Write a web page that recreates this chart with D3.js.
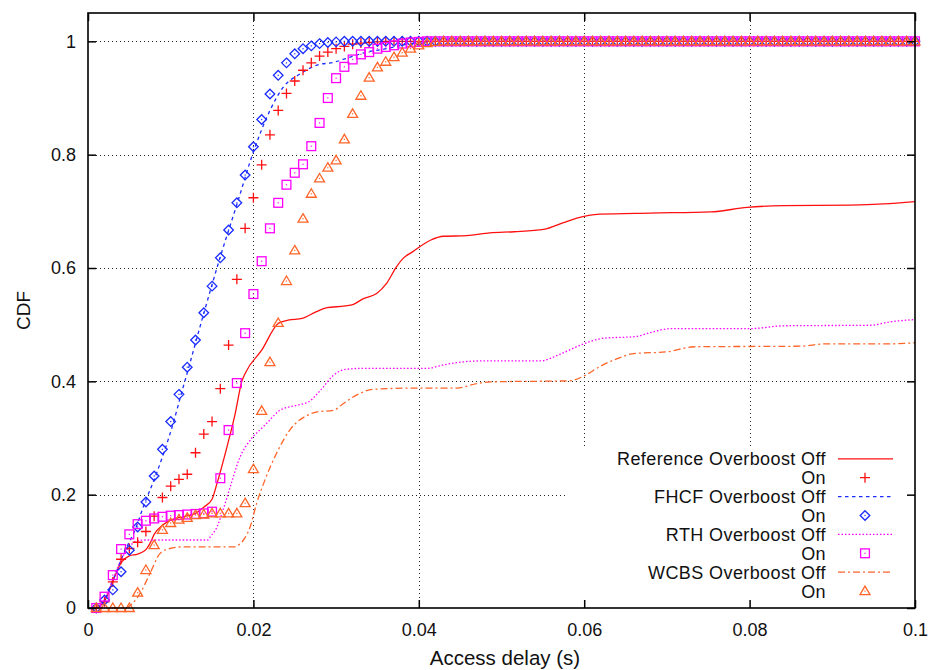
<!DOCTYPE html>
<html>
<head>
<meta charset="utf-8">
<script src="https://cdn.jsdelivr.net/npm/d3@7"></script>
<style>
  html, body { margin: 0; padding: 0; background: #fff; }
  svg { display: block; font-family: "Liberation Sans", Arial, Helvetica, sans-serif; }
</style>
</head>
<body>
<svg id="chart" width="930" height="670"></svg>
<script>
// ---------------- DATA ----------------
const xTickValues = [0, 0.02, 0.04, 0.06, 0.08, 0.1];
const xTickLabels = ["0", "0.02", "0.04", "0.06", "0.08", "0.1"];
const yTickValues = [0, 0.2, 0.4, 0.6, 0.8, 1];
const yTickLabels = ["0", "0.2", "0.4", "0.6", "0.8", "1"];
const xLabel = "Access delay (s)";
const yLabel = "CDF";

// access delays at which the "On" points are plotted (s)
const markerDelays = [
  0.001,0.002,0.003,0.004,0.005,0.006,0.007,0.008,0.009,0.010,
  0.011,0.012,0.013,0.014,0.015,0.016,0.017,0.018,0.019,0.020,
  0.021,0.022,0.023,0.024,0.025,0.026,0.027,0.028,0.029,0.030,
  0.031,0.032,0.033,0.034,0.035,0.036,0.037,0.038,0.039,0.040,
  0.041,0.042,0.043,0.044,0.045,0.046,0.047,0.048,0.049,0.050,
  0.051,0.052,0.053,0.054,0.055,0.056,0.057,0.058,0.059,0.060,
  0.061,0.062,0.063,0.064,0.065,0.066,0.067,0.068,0.069,0.070,
  0.071,0.072,0.073,0.074,0.075,0.076,0.077,0.078,0.079,0.080,
  0.081,0.082,0.083,0.084,0.085,0.086,0.087,0.088,0.089,0.090,
  0.091,0.092,0.093,0.094,0.095,0.096,0.097,0.098,0.099,0.100
];

// Overboost On (points)
const referenceOn = [
  0.000,0.011,0.046,0.086,0.105,0.116,0.135,0.162,0.195,0.215,
  0.227,0.236,0.274,0.307,0.329,0.387,0.464,0.580,0.670,0.724,
  0.782,0.835,0.878,0.908,0.930,0.949,0.962,0.974,0.981,0.987,
  0.991,0.995,0.997,0.998,0.999,1,1,1,1,1,
  1,1,1,1,1,1,1,1,1,1,
  1,1,1,1,1,1,1,1,1,1,
  1,1,1,1,1,1,1,1,1,1,
  1,1,1,1,1,1,1,1,1,1,
  1,1,1,1,1,1,1,1,1,1,
  1,1,1,1,1,1,1,1,1,1
];
const fhcfOn = [
  0.000,0.014,0.032,0.064,0.102,0.143,0.187,0.233,0.280,0.329,
  0.377,0.425,0.473,0.521,0.568,0.618,0.667,0.715,0.764,0.814,
  0.862,0.907,0.940,0.962,0.978,0.987,0.992,0.996,0.998,0.999,
  1,1,1,1,1,1,1,1,1,1,
  1,1,1,1,1,1,1,1,1,1,
  1,1,1,1,1,1,1,1,1,1,
  1,1,1,1,1,1,1,1,1,1,
  1,1,1,1,1,1,1,1,1,1,
  1,1,1,1,1,1,1,1,1,1,
  1,1,1,1,1,1,1,1,1,1
];
const rthOn = [
  0.000,0.020,0.058,0.104,0.130,0.148,0.154,0.158,0.161,0.163,
  0.164,0.165,0.166,0.167,0.170,0.229,0.314,0.397,0.485,0.554,
  0.612,0.670,0.715,0.747,0.768,0.783,0.815,0.856,0.900,0.935,
  0.955,0.968,0.977,0.981,0.987,0.990,0.993,0.996,0.998,0.999,
  1,1,1,1,1,1,1,1,1,1,
  1,1,1,1,1,1,1,1,1,1,
  1,1,1,1,1,1,1,1,1,1,
  1,1,1,1,1,1,1,1,1,1,
  1,1,1,1,1,1,1,1,1,1,
  1,1,1,1,1,1,1,1,1,1
];
const wcbsOn = [
  0.000,0.000,0.000,0.000,0.000,0.027,0.067,0.111,0.138,0.150,
  0.156,0.159,0.164,0.165,0.167,0.167,0.167,0.167,0.185,0.245,
  0.348,0.434,0.503,0.577,0.631,0.687,0.731,0.758,0.777,0.790,
  0.827,0.872,0.904,0.936,0.954,0.964,0.972,0.980,0.987,0.993,
  0.997,0.999,1,1,1,1,1,1,1,1,
  1,1,1,1,1,1,1,1,1,1,
  1,1,1,1,1,1,1,1,1,1,
  1,1,1,1,1,1,1,1,1,1,
  1,1,1,1,1,1,1,1,1,1,
  1,1,1,1,1,1,1,1,1,1
];

// Overboost Off (lines): [delay (s), CDF]
const referenceOff = [
  [0.001,0],[0.002,0.012],[0.003,0.047],[0.004,0.080],[0.005,0.092],[0.006,0.095],
  [0.007,0.103],[0.0075,0.114],[0.008,0.130],[0.009,0.146],[0.010,0.155],[0.0115,0.161],
  [0.013,0.167],[0.014,0.178],[0.015,0.192],[0.0156,0.220],[0.0168,0.284],[0.0178,0.343],
  [0.0186,0.400],[0.019,0.414],[0.021,0.455],[0.023,0.502],[0.0242,0.508],[0.0259,0.511],
  [0.0275,0.522],[0.0289,0.530],[0.0311,0.533],[0.0321,0.536],[0.0333,0.546],[0.0349,0.555],
  [0.0361,0.573],[0.0373,0.602],[0.0381,0.617],[0.0392,0.628],[0.0414,0.649],[0.043,0.656],
  [0.0458,0.657],[0.0486,0.662],[0.0515,0.664],[0.0551,0.668],[0.0575,0.680],[0.0591,0.688],
  [0.0619,0.695],[0.068,0.697],[0.0753,0.699],[0.0797,0.707],[0.0841,0.710],[0.0922,0.711],
  [0.0962,0.713],[0.1,0.717]
];
const fhcfOff = [
  [0.001,0],[0.0019,0.011],[0.003,0.049],[0.0045,0.102],[0.0057,0.138],[0.0067,0.179],
  [0.0083,0.238],[0.0103,0.326],[0.0113,0.379],[0.012,0.415],[0.014,0.520],[0.016,0.620],
  [0.018,0.712],[0.020,0.805],[0.022,0.878],[0.0236,0.919],[0.0257,0.943],[0.0277,0.958],
  [0.0297,0.963],[0.0317,0.972],[0.0337,0.981],[0.0361,0.987],[0.0386,0.995],[0.041,0.999],
  [0.045,1],[0.1,1]
];
const rthOff = [
  [0.001,0],[0.002,0.015],[0.003,0.050],[0.004,0.085],[0.005,0.108],[0.0058,0.118],
  [0.0068,0.120],[0.0145,0.120],[0.0148,0.126],[0.0156,0.143],[0.0162,0.167],[0.0172,0.214],
  [0.0184,0.267],[0.0196,0.296],[0.0212,0.320],[0.022,0.332],[0.0232,0.349],[0.0253,0.358],
  [0.0267,0.364],[0.0281,0.384],[0.0297,0.411],[0.0311,0.421],[0.0333,0.423],[0.041,0.423],
  [0.043,0.429],[0.0446,0.433],[0.0474,0.436],[0.0547,0.436],[0.0571,0.448],[0.0599,0.466],
  [0.0623,0.476],[0.0662,0.479],[0.068,0.486],[0.0704,0.493],[0.0801,0.493],[0.0841,0.498],
  [0.0946,0.499],[0.097,0.505],[0.1,0.509]
];
const wcbsOff = [
  [0.001,0],[0.0045,0],[0.0055,0.010],[0.0063,0.026],[0.0075,0.061],[0.0087,0.096],
  [0.0099,0.105],[0.0115,0.108],[0.0176,0.108],[0.0188,0.120],[0.0196,0.143],[0.0204,0.185],
  [0.0214,0.226],[0.0228,0.273],[0.0244,0.314],[0.0265,0.340],[0.0277,0.346],[0.0297,0.349],
  [0.0309,0.361],[0.0325,0.376],[0.0345,0.386],[0.0394,0.388],[0.0446,0.388],[0.047,0.396],
  [0.0486,0.399],[0.0583,0.401],[0.0599,0.409],[0.062,0.427],[0.064,0.440],[0.066,0.449],
  [0.070,0.452],[0.0733,0.461],[0.0862,0.462],[0.089,0.466],[0.0962,0.466],[0.1,0.468]
];

const legendLabels = [
  "Reference Overboost Off", "On",
  "FHCF Overboost Off", "On",
  "RTH Overboost Off", "On",
  "WCBS Overboost Off", "On"
];

// ---------------- STYLES ----------------
const COL_REF = "#ff1010";
const COL_FHCF = "#1a2cff";
const COL_RTH = "#ff00ff";
const COL_WCBS = "#ff6428";

const lineSeries = [
  { data: referenceOff, color: COL_REF,  dash: null,      width: 1.3 },
  { data: fhcfOff,      color: COL_FHCF, dash: "3.5,3.5", width: 1.3 },
  { data: rthOff,       color: COL_RTH,  dash: "1.5,2",   width: 1.3 },
  { data: wcbsOff,      color: COL_WCBS, dash: "7,3,2,3", width: 1.3 }
];
const pointSeries = [
  { values: referenceOn, color: COL_REF,  shape: "plus" },
  { values: fhcfOn,      color: COL_FHCF, shape: "diamond" },
  { values: rthOn,       color: COL_RTH,  shape: "square" },
  { values: wcbsOn,      color: COL_WCBS, shape: "triangle" }
];

// ---------------- CHART ----------------
const svg = d3.select("#chart");
const pLeft = 88, pRight = 915, pTop = 13, pBottom = 608;

const x = d3.scaleLinear().domain([0, 0.1]).range([pLeft, pRight]);
const y = d3.scaleLinear().domain([0, 1.05]).range([pBottom, pTop]);

// grid
const grid = svg.append("g").attr("stroke", "#222").attr("stroke-width", 1)
  .attr("stroke-dasharray", "1,3").attr("fill", "none");
xTickValues.filter(v => v > 0 && v < 0.1).forEach(v => {
  grid.append("line").attr("x1", Math.round(x(v)) + 0.5).attr("x2", Math.round(x(v)) + 0.5)
    .attr("y1", pTop).attr("y2", pBottom);
});
yTickValues.filter(v => v > 0).forEach(v => {
  grid.append("line").attr("x1", pLeft).attr("x2", pRight)
    .attr("y1", Math.round(y(v)) + 0.5).attr("y2", Math.round(y(v)) + 0.5);
});

// legend background (masks grid)
svg.append("rect").attr("x", 565).attr("y", 448).attr("width", pRight - 565).attr("height", pBottom - 448)
  .attr("fill", "#fff");

// lines
const lineGen = d3.line().x(d => x(d[0])).y(d => y(d[1])).curve(d3.curveMonotoneX);
lineSeries.forEach(s => {
  svg.append("path").datum(s.data).attr("d", lineGen)
    .attr("fill", "none").attr("stroke", s.color).attr("stroke-width", s.width)
    .attr("stroke-dasharray", s.dash);
});

// markers
function drawMarker(g, shape, cx, cy, color) {
  const sw = 1.3;
  if (shape === "plus") {
    g.append("path").attr("d", `M${cx-5},${cy}H${cx+5}M${cx},${cy-5}V${cy+5}`)
      .attr("stroke", color).attr("stroke-width", sw).attr("fill", "none");
  } else if (shape === "diamond") {
    const r = 4.8;
    g.append("path").attr("d", `M${cx},${cy-r}L${cx+r},${cy}L${cx},${cy+r}L${cx-r},${cy}Z`)
      .attr("stroke", color).attr("stroke-width", sw).attr("fill", "none");
    g.append("rect").attr("x", cx - 0.6).attr("y", cy - 0.6).attr("width", 1.2).attr("height", 1.2).attr("fill", color);
  } else if (shape === "square") {
    const r = 4.4;
    g.append("rect").attr("x", cx - r).attr("y", cy - r).attr("width", 2 * r).attr("height", 2 * r)
      .attr("stroke", color).attr("stroke-width", sw).attr("fill", "none");
    g.append("rect").attr("x", cx - 0.6).attr("y", cy - 0.6).attr("width", 1.2).attr("height", 1.2).attr("fill", color);
  } else if (shape === "triangle") {
    const r = 5;
    g.append("path").attr("d", `M${cx},${cy-r}L${cx+r},${cy+r*0.7}L${cx-r},${cy+r*0.7}Z`)
      .attr("stroke", color).attr("stroke-width", sw).attr("fill", "none");
    g.append("rect").attr("x", cx - 0.6).attr("y", cy - 0.6).attr("width", 1.2).attr("height", 1.2).attr("fill", color);
  }
}
pointSeries.forEach(s => {
  const g = svg.append("g");
  s.values.forEach((v, i) => drawMarker(g, s.shape, x(markerDelays[i]), y(v), s.color));
});

// axes (inward ticks on all sides)
const fontSize = 18;
const axB = svg.append("g").attr("transform", `translate(0,${pBottom})`)
  .call(d3.axisBottom(x).tickValues(xTickValues).tickFormat((d, i) => xTickLabels[i])
    .tickSizeInner(-8).tickSizeOuter(0).tickPadding(15));
const axL = svg.append("g").attr("transform", `translate(${pLeft},0)`)
  .call(d3.axisLeft(y).tickValues(yTickValues).tickFormat((d, i) => yTickLabels[i])
    .tickSizeInner(-8).tickSizeOuter(0).tickPadding(12));
const axT = svg.append("g").attr("transform", `translate(0,${pTop})`)
  .call(d3.axisTop(x).tickValues(xTickValues).tickFormat("").tickSizeInner(-8).tickSizeOuter(0));
const axR = svg.append("g").attr("transform", `translate(${pRight},0)`)
  .call(d3.axisRight(y).tickValues(yTickValues).tickFormat("").tickSizeInner(-8).tickSizeOuter(0));
[axB, axL, axT, axR].forEach(a => {
  a.select(".domain").remove();
  a.selectAll(".tick line").attr("stroke", "#000").attr("stroke-width", 1.5);
  a.selectAll("text").attr("font-size", fontSize).attr("fill", "#111")
    .attr("font-family", '"Liberation Sans", Arial, sans-serif');
});

// frame
svg.append("rect").attr("x", pLeft).attr("y", pTop).attr("width", pRight - pLeft).attr("height", pBottom - pTop)
  .attr("fill", "none").attr("stroke", "#000").attr("stroke-width", 1.6);

// axis titles
svg.append("text").attr("x", 505).attr("y", 665).attr("text-anchor", "middle")
  .attr("font-size", 20.5).attr("fill", "#111").text(xLabel);
svg.append("text").attr("transform", `translate(30,${(pTop + pBottom) / 2}) rotate(-90)`)
  .attr("text-anchor", "middle").attr("font-size", 19).attr("fill", "#111").text(yLabel);

// legend
const legend = svg.append("g");
const legendItems = [];
lineSeries.forEach((s, i) => {
  legendItems.push({ type: "line", s: s, label: legendLabels[2 * i] });
  legendItems.push({ type: "point", s: pointSeries[i], label: legendLabels[2 * i + 1] });
});
legendItems.forEach((it, i) => {
  const cy = 458.8 + i * 18.9;
  legend.append("text").attr("x", 826).attr("y", cy).attr("dy", "0.36em")
    .attr("text-anchor", "end").attr("font-size", fontSize).attr("letter-spacing", 0.4)
    .attr("fill", "#111").text(it.label);
  if (it.type === "line") {
    legend.append("line").attr("x1", 838).attr("x2", 893).attr("y1", cy).attr("y2", cy)
      .attr("stroke", it.s.color).attr("stroke-width", it.s.width).attr("stroke-dasharray", it.s.dash);
  } else {
    drawMarker(legend, it.s.shape, 865, cy, it.s.color);
  }
});
</script>
</body>
</html>
